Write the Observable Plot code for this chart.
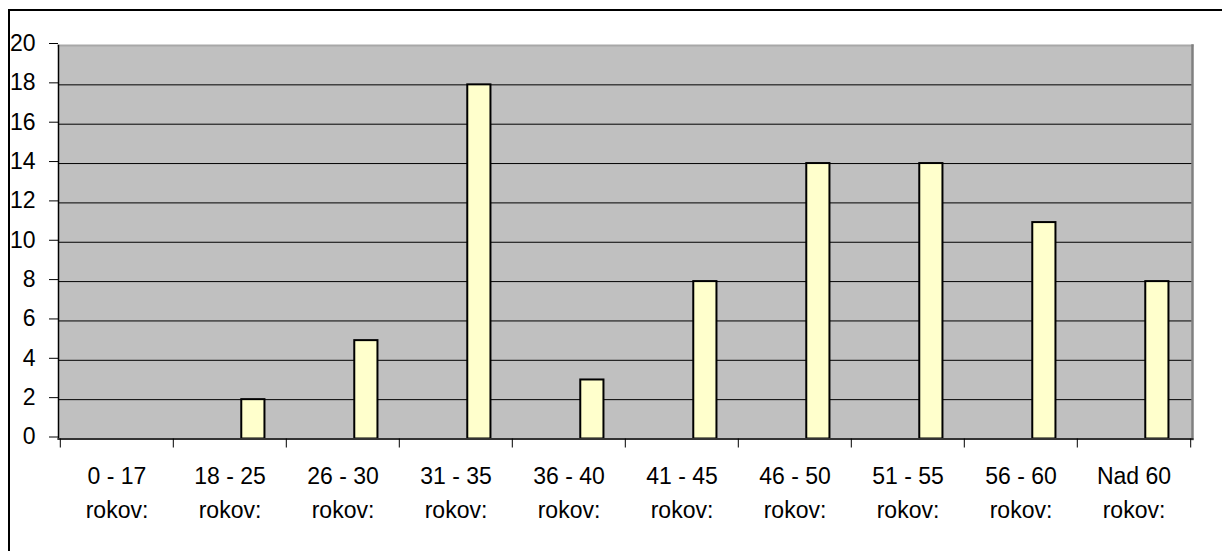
<!DOCTYPE html>
<html>
<head>
<meta charset="utf-8">
<script src="https://cdn.jsdelivr.net/npm/d3@7"></script>
<script src="https://cdn.jsdelivr.net/npm/@observablehq/plot@0.6"></script>
<style>
  html, body { margin: 0; padding: 0; background: #fff; overflow: hidden; }
  #wrap { position: relative; width: 1222px; height: 551px; }
  #border { position: absolute; left: 8px; top: 9px; width: 1400px; height: 700px; border-left: 2px solid #000; border-top: 2px solid #000; pointer-events: none; }
</style>
</head>
<body>
<div id="wrap"><div id="border"></div></div>
<script>
const categories = ["0 - 17 rokov:", "18 - 25 rokov:", "26 - 30 rokov:", "31 - 35 rokov:", "36 - 40 rokov:", "41 - 45 rokov:", "46 - 50 rokov:", "51 - 55 rokov:", "56 - 60 rokov:", "Nad 60 rokov:"];
const values = [0, 2, 5, 18, 3, 8, 14, 14, 11, 8];
const yTicks = [0, 2, 4, 6, 8, 10, 12, 14, 16, 18, 20];

const data = categories.map((c, i) => ({category: c, value: values[i]}));

const width = 1222, height = 551;
const marginLeft = 58, marginRight = 30, marginTop = 45, marginBottom = 112.5;
const bw = (width - marginLeft - marginRight) / categories.length;
const font = "'Liberation Sans', Arial, sans-serif";

const chart = Plot.plot({
  width, height, marginLeft, marginRight, marginTop, marginBottom,
  style: {fontFamily: font, fontSize: "23px", color: "#000", background: "transparent", overflow: "visible"},
  x: {domain: categories, padding: 0, axis: null},
  y: {domain: [0, 20], axis: null},
  marks: [
    Plot.frame({fill: "#C0C0C0", stroke: "none"}),
    Plot.ruleY(yTicks.filter(d => d > 0 && d < 20), {stroke: "#000", strokeWidth: 1}),
    Plot.frame({anchor: "top", stroke: "#A8A8A8", strokeWidth: 2}),
    Plot.frame({anchor: "right", stroke: "#808080", strokeWidth: 2.5}),
    Plot.barY(data, {
      x: "category", y: "value",
      filter: d => d.value > 0,
      fill: "#FFFFCC", stroke: "#000", strokeWidth: 2,
      insetLeft: bw * 0.602, insetRight: bw * 0.19
    }),
    Plot.frame({anchor: "left", stroke: "#000", strokeWidth: 1.5}),
    Plot.frame({anchor: "bottom", stroke: "#333", strokeWidth: 2}),
    Plot.axisY({ticks: yTicks, tickSize: 9, tickPadding: 14, tickFormat: d => String(d), fontSize: 23, dy: -2, stroke: "#000", label: null}),
    Plot.axisX({tickSize: 9, tickFormat: () => "", dx: -bw / 2, stroke: "#000", label: null}),
    Plot.axisX([categories[categories.length - 1]], {tickSize: 9, tickFormat: () => "", dx: bw / 2, stroke: "#000", label: null}),
    Plot.axisX({tickSize: 0, tickPadding: 21, fontSize: 23, lineHeight: 1.465, label: null,
      tickFormat: d => d.replace(" rokov:", "\nrokov:")})
  ]
});
document.getElementById("wrap").prepend(chart);
</script>
</body>
</html>
